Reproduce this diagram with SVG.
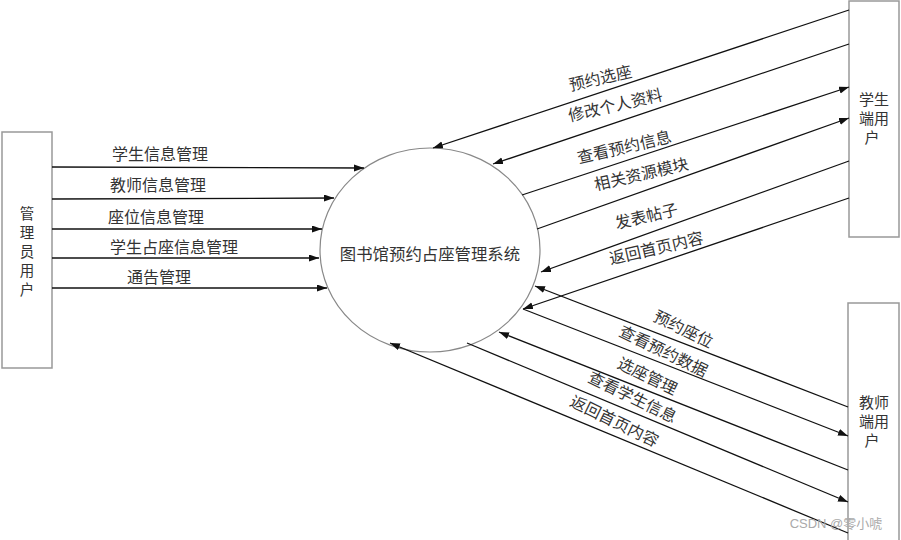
<svg xmlns="http://www.w3.org/2000/svg" width="901" height="540" viewBox="0 0 901 540">
<defs>
<marker id="arr" markerUnits="userSpaceOnUse" markerWidth="11" markerHeight="8" refX="10" refY="3.5" orient="auto">
<path d="M0,0 L10,3.5 L0,7 z" fill="#111"/>
</marker>
<style>
.box{fill:#fff;stroke:#999;stroke-width:1.5}
.sys{fill:#fff;stroke:#888;stroke-width:1.2}
.ln{stroke:#111;stroke-width:1.3;fill:none;marker-end:url(#arr)}
.t{font-family:"Noto Sans CJK SC","Noto Sans CJK JP",sans-serif;font-size:16px;fill:#333;dominant-baseline:central}
.c{text-anchor:middle}
.bt{font-size:15px}
.wm{font-family:"Liberation Sans","Noto Sans CJK SC",sans-serif;font-size:13px;fill:#aaa;text-anchor:middle;dominant-baseline:central}
</style>
</defs>
<rect width="901" height="540" fill="#fff"/>

<g id="system">
<ellipse class="sys" cx="430" cy="250" rx="110" ry="102"/>
<text class="t c" x="430" y="253" style="font-size:16.4px">图书馆预约占座管理系统</text>
</g>

<g id="admin">
<rect class="box" x="2" y="132" width="50" height="236"/>
<g class="t c" style="font-size:14.5px">
<text x="27" y="212">管</text>
<text x="27" y="231">理</text>
<text x="27" y="250">员</text>
<text x="27" y="269">用</text>
<text x="27" y="288">户</text>
</g>
</g>

<g id="student">
<rect class="box" x="849" y="1" width="50" height="236"/>
<g class="t c bt">
<text x="874" y="98">学生</text>
<text x="874" y="117">端用</text>
<text x="872" y="136">户</text>
</g>
</g>

<g id="teacher">
<rect class="box" x="848" y="303" width="51" height="245"/>
<g class="t c bt">
<text x="874" y="401">教师</text>
<text x="874" y="420">端用</text>
<text x="872" y="439">户</text>
</g>
</g>

<g id="connectors">
<line class="ln" x1="52" y1="167" x2="364" y2="168"/>
<line class="ln" x1="52" y1="199" x2="334" y2="198"/>
<line class="ln" x1="52" y1="229" x2="322" y2="229"/>
<line class="ln" x1="52" y1="258" x2="319" y2="258"/>
<line class="ln" x1="52" y1="288" x2="327" y2="288"/>

<line class="ln" x1="849" y1="10" x2="433" y2="148"/>
<line class="ln" x1="849" y1="44" x2="493" y2="164"/>
<line class="ln" x1="522" y1="195" x2="849" y2="87"/>
<line class="ln" x1="537" y1="229" x2="849" y2="118"/>
<line class="ln" x1="849" y1="161" x2="541" y2="272"/>
<line class="ln" x1="849" y1="198" x2="523" y2="309"/>

<line class="ln" x1="848" y1="407" x2="535" y2="286"/>
<line class="ln" x1="523" y1="309" x2="848" y2="436"/>
<line class="ln" x1="848" y1="470" x2="499" y2="332"/>
<line class="ln" x1="467" y1="343" x2="848" y2="502"/>
<line class="ln" x1="848" y1="533" x2="390" y2="343"/>

<g class="t">
<text x="112" y="153">学生信息管理</text>
<text x="110" y="184">教师信息管理</text>
<text x="108" y="216">座位信息管理</text>
<text x="110" y="246">学生占座信息管理</text>
<text x="127" y="276">通告管理</text>
</g>
<g class="t c">
<text transform="translate(600,77) rotate(-13)">预约选座</text>
<text transform="translate(615,104) rotate(-13)">修改个人资料</text>
<text transform="translate(624,146) rotate(-13)">查看预约信息</text>
<text transform="translate(641,173) rotate(-13)">相关资源模块</text>
<text transform="translate(646,215) rotate(-13)">发表帖子</text>
<text transform="translate(656,247) rotate(-13)">返回首页内容</text>

<text transform="translate(684,328) rotate(26)">预约座位</text>
<text transform="translate(664,350) rotate(26)">查看预约数据</text>
<text transform="translate(648,375) rotate(26)">选座管理</text>
<text transform="translate(633,396) rotate(26)">查看学生信息</text>
<text transform="translate(615,420) rotate(26)">返回首页内容</text>
</g>
</g>

<text class="wm" x="836" y="523">CSDN @零小唬</text>
</svg>
